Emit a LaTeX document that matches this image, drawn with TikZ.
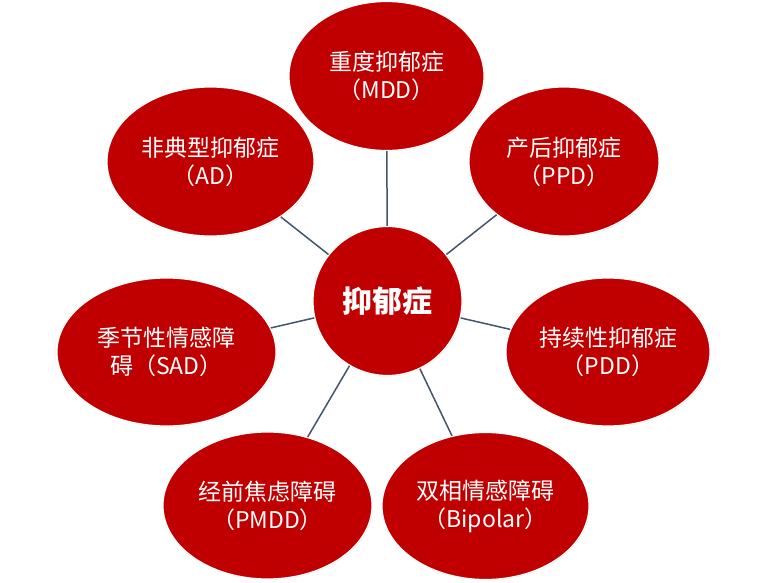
\documentclass[tikz,border=0pt]{standalone}
\usepackage{fontspec}
\newfontfamily\cjk{Noto Sans CJK SC}
\usetikzlibrary{shapes.geometric,shadows}
\definecolor{dred}{RGB}{192,0,0}
\definecolor{conncol}{RGB}{68,84,106}
\begin{document}
\begin{tikzpicture}[x=1pt,y=-1pt,
  bubble/.style={ellipse, fill=dred, draw=white, line width=1.2pt, inner sep=0pt,
    text=white, align=center, font=\cjk\fontsize{23}{28}\selectfont,
    drop shadow={opacity=0.18, shadow xshift=0.8pt, shadow yshift=-0.8pt}},
  hub/.style={circle, fill=dred, draw=white, line width=1.2pt, inner sep=0pt,
    text=white, font=\cjk\bfseries\fontsize{30}{36}\selectfont,
    drop shadow={opacity=0.18, shadow xshift=0.8pt, shadow yshift=-0.8pt}},
  conn/.style={draw=conncol, line width=1.5pt}]
\useasboundingbox (0,0) rectangle (772,583);
\node[hub, minimum size=149pt] (c) at (387.5,301) {抑郁症};
\node[bubble, minimum width=195pt, minimum height=149pt] (mdd) at (386.5,76) {重度抑郁症\\（MDD）};
\node[bubble, minimum width=207pt, minimum height=149pt] (ad) at (210.5,161.5) {非典型抑郁症\\（AD）};
\node[bubble, minimum width=190pt, minimum height=149pt] (ppd) at (564,161.5) {产后抑郁症\\（PPD）};
\node[bubble, minimum width=219pt, minimum height=148pt] (sad) at (166.5,352) {季节性情感障\\碍（SAD）};
\node[bubble, minimum width=204pt, minimum height=148pt] (pdd) at (608,352) {持续性抑郁症\\（PDD）};
\node[bubble, minimum width=209pt, minimum height=147pt] (pmdd) at (267.5,505.5) {经前焦虑障碍\\（PMDD）};
\node[bubble, minimum width=207pt, minimum height=147pt] (bip) at (485.5,506) {双相情感障碍\\（Bipolar）};
\foreach \n in {mdd,ad,ppd,sad,pdd,pmdd,bip}{
  \draw[conn] (c) -- (\n);
}
\end{tikzpicture}
\end{document}
